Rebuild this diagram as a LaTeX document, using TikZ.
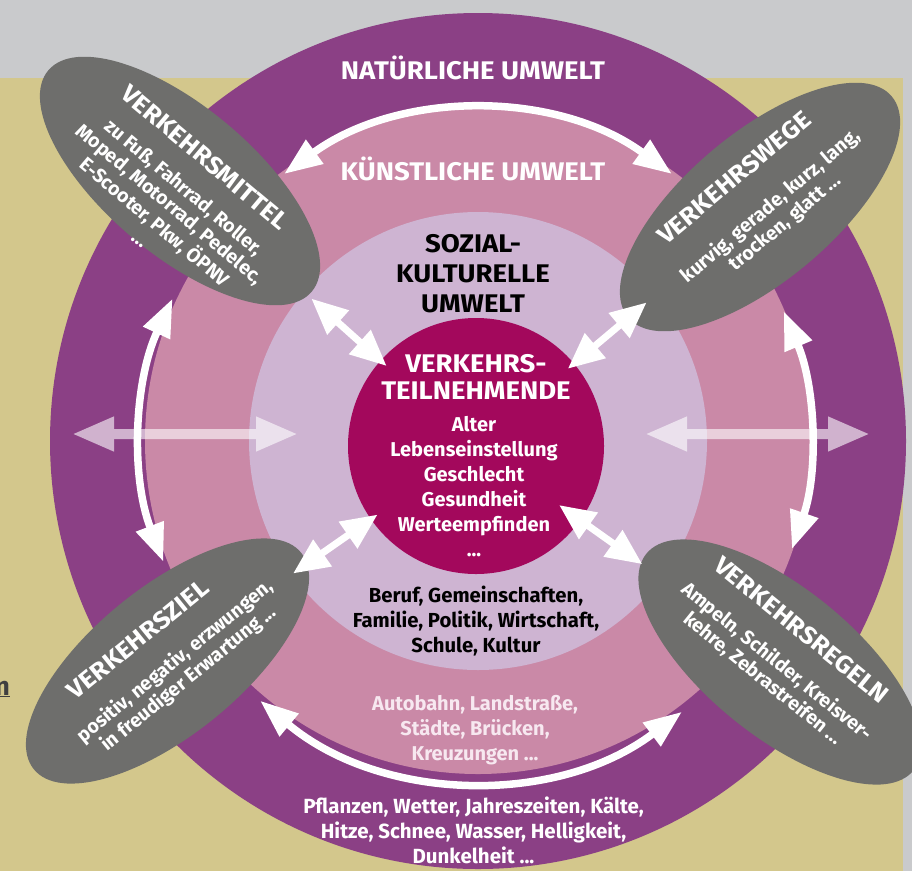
\documentclass[tikz,border=0pt]{standalone}
\usepackage{fontspec}
\setmainfont{Fira Sans}
\newfontfamily\capsfont{Fira Sans}[FakeStretch=1.08]
\usetikzlibrary{arrows.meta,shapes.geometric,calc}
\definecolor{natpurple}{HTML}{8B4085}
\definecolor{artpink}{HTML}{CA89A7}
\definecolor{soclilac}{HTML}{CEB4D2}
\definecolor{userred}{HTML}{A3085C}
\definecolor{bubblegray}{HTML}{6E6E6C}
\definecolor{khaki}{HTML}{D3C78C}
\definecolor{concrete}{HTML}{C9CACC}
\definecolor{paletext}{HTML}{F7E8F0}

\begin{document}
\begin{tikzpicture}[x=1pt, y=1pt,
  ringtitle/.style={white, font=\capsfont\bfseries\fontsize{25.5}{30}\selectfont, inner sep=0pt},
  blocktext/.style={align=center, inner sep=0pt},
  bubble/.style={ellipse, fill=bubblegray, minimum width=344pt, minimum height=148pt, inner sep=0pt},
  bubtitle/.style={white, font=\capsfont\bfseries\fontsize{24.5}{28}\selectfont, inner sep=0pt},
  bubtext/.style={white, align=center, font=\bfseries\fontsize{19.5}{22}\selectfont, inner sep=0pt},
  arcarrow/.style={white, line width=7.5pt, {Triangle[length=38pt,width=28pt]}-{Triangle[length=38pt,width=28pt]}},
  linkarrow/.style={white, line width=7pt, {Triangle[length=36pt,width=31pt]}-{Triangle[length=36pt,width=31pt]}},
  spanarrow/.style={white, line width=10pt, {Triangle[length=42pt,width=32pt]}-{Triangle[length=42pt,width=32pt]}},
]
\useasboundingbox (0,0) rectangle (912,-871);

% ===== background =====
\fill[concrete] (0,0) rectangle (912,-871);
\fill[khaki] (0,-78) rectangle (903,-871);
\node[text=black!75, font=\bfseries\fontsize{26}{30}\selectfont, anchor=base east, inner sep=0pt] (cutn) at (10,-695) {\underline{n}};

% ===== rings =====
\coordinate (c) at (478,-441);
\fill[natpurple] (c) circle (428pt);
\fill[artpink] (c) circle (333pt);
\fill[soclilac] (c) circle (229pt);
\node[circle, fill=userred, minimum size=256pt, inner sep=0pt] (teil) at (476,-446) {};

% ring titles
\node[ringtitle, anchor=base] (natur) at (473,-79) {NATÜRLICHE UMWELT};
\node[ringtitle, anchor=base] (kunst) at (473,-180) {KÜNSTLICHE UMWELT};
\node[blocktext, black, font=\capsfont\bfseries\fontsize{25.5}{30}\selectfont] (sozial) at (473,-273.5) {SOZIAL-\\KULTURELLE\\UMWELT};
\node[blocktext, white, font=\capsfont\bfseries\fontsize{25.5}{27}\selectfont] (teiltitle) at (476,-376.5) {VERKEHRS-\\TEILNEHMENDE};
\node[blocktext, white, font=\bfseries\fontsize{20}{25}\selectfont] (teillist) at (474,-487) {Alter\\Lebenseinstellung\\Geschlecht\\Gesundheit\\Werteempfinden\\...};
\node[blocktext, black, font=\bfseries\fontsize{20.3}{25}\selectfont] (soziallist) at (476,-621) {Beruf, Gemeinschaften,\\Familie, Politik, Wirtschaft,\\Schule, Kultur};
\node[blocktext, paletext, font=\bfseries\fontsize{20}{25}\selectfont] (kunstlist) at (475,-730.6) {Autobahn, Landstraße,\\Städte, Brücken,\\Kreuzungen ...};
\node[blocktext, white, font=\bfseries\fontsize{20.5}{25}\selectfont] (naturlist) at (473.5,-830) {Pflanzen, Wetter, Jahreszeiten, Kälte,\\Hitze, Schnee, Wasser, Helligkeit,\\Dunkelheit ...};

% ===== translucent cross arrows =====
\coordinate (spanLa) at (72,-434);
\coordinate (spanLb) at (298,-434);
\coordinate (spanRa) at (645,-434);
\coordinate (spanRb) at (870,-434);
\begin{scope}[transparency group, opacity=0.6]
  \draw[spanarrow] (spanLa) -- (spanLb);
  \draw[spanarrow] (spanRa) -- (spanRb);
\end{scope}

% ===== bubbles =====
% Verkehrsmittel
\begin{scope}[shift={(180,-181)}, rotate=-40, transform shape]
  \node[bubble] (mittel) at (0,0) {};
  \node[bubtitle] (mitteltitle) at (4,34) {VERKEHRSMITTEL};
  \node[bubtext] (mittelbody) at (7,-35.5) {zu Fuß, Fahrrad, Roller,\\Moped, Motorrad, Pedelec,\\E-Scooter, Pkw, ÖPNV\\...};
\end{scope}
% Verkehrswege
\begin{scope}[shift={(760,-207)}, rotate=40, transform shape]
  \node[bubble] (wege) at (0,0) {};
  \node[bubtitle] (wegetitle) at (-1,39) {VERKEHRSWEGE};
  \node[bubtext] (wegebody) at (9,-17.2) {kurvig, gerade, kurz, lang,\\trocken, glatt ...};
\end{scope}
% Verkehrsziel
\begin{scope}[shift={(167.5,-661)}, rotate=39, transform shape]
  \node[bubble] (ziel) at (0,0) {};
  \node[bubtitle] (zieltitle) at (-9,35.5) {VERKEHRSZIEL};
  \node[bubtext] (zielbody) at (5.5,-16) {positiv, negativ, erzwungen,\\in freudiger Erwartung ...};
\end{scope}
% Verkehrsregeln
\begin{scope}[shift={(780,-662)}, rotate=-39, transform shape]
  \node[bubble] (regeln) at (0,0) {};
  \node[bubtitle] (regelntitle) at (-3.4,38.5) {VERKEHRSREGELN};
  \node[bubtext] (regelnbody) at (-3,-12.7) {Ampeln, Schilder, Kreisver-\\kehre, Zebrastreifen ...};
\end{scope}

% ===== arcs between the bubbles =====
\draw[arcarrow] ([shift={(126:330pt)}]c) arc[start angle=126, end angle=54, radius=330pt];
\draw[arcarrow] ([shift={(155:337pt)}]c) arc[start angle=155, end angle=201, radius=337pt];
\draw[arcarrow] ([shift={(23:332pt)}]c) arc[start angle=23, end angle=-19, radius=332pt];
\draw[arcarrow] ([shift={(230:339pt)}]c) arc[start angle=230, end angle=307, radius=339pt];

% ===== links from the centre =====
\draw[linkarrow] ($(teil)!120pt!(mittel)$) -- ($(teil)!221pt!(mittel)$);
\draw[linkarrow] ($(teil)!120pt!(wege)$) -- ($(teil)!223pt!(wege)$);
\draw[linkarrow] ($(teil)!120pt!(ziel)$) -- ($(teil)!223pt!(ziel)$);
\draw[linkarrow] ($(teil)!102pt!(regeln)$) -- ($(teil)!204pt!(regeln)$);

\end{tikzpicture}
\end{document}
